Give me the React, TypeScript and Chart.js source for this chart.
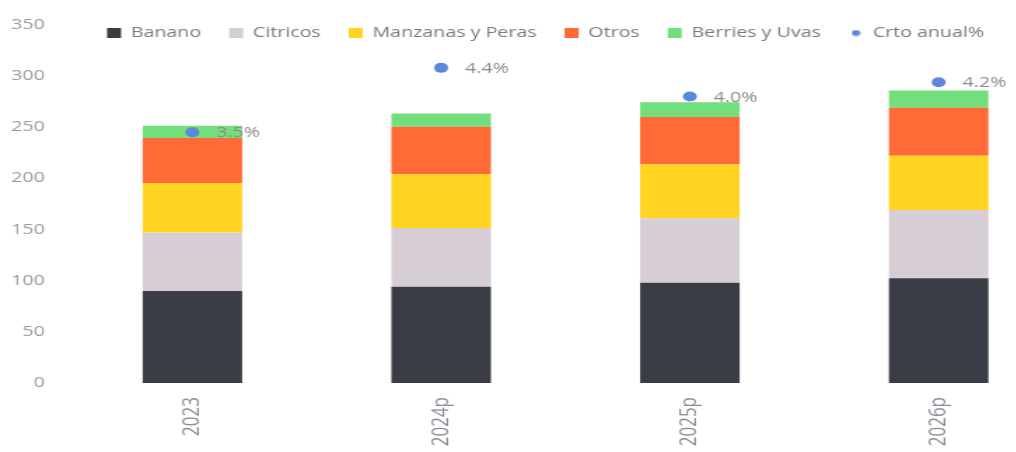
import { useEffect, useRef } from 'react';
import { Chart, registerables } from 'chart.js';

Chart.register(...registerables);

// ---- data ----
const categories = ['2023', '2024p', '2025p', '2026p'];
const banano = [90, 94, 98, 102.5];
const citricos = [57, 57.5, 63, 66.5];
const manzanasPeras = [48.5, 52.5, 52.5, 53];
const otros = [44, 46.5, 46.5, 47];
const berriesUvas = [12, 13, 14.5, 17];
const crtoAnual = [3.5, 4.4, 4.0, 4.2];
const yTicks = [0, 50, 100, 150, 200, 250, 300, 350];
const y1Range = [0, 5];

// ---- styles ----
const FONT = "'Open Sans', sans-serif";
const C_BANANO = '#3a3d45';
const C_CITRICOS = '#d6cdd5';
const C_MANZANAS = '#ffd31f';
const C_OTROS = '#ff6a36';
const C_BERRIES = '#73df7c';
const C_DOT = '#5b88d8';

// the reference image is horizontally stretched; we draw on a narrower bitmap and stretch it with CSS
const STRETCH = 1.4;
const CSS_W = 1070;
const H = 452;
const LW = Math.round(CSS_W / STRETCH);
const AREA_LEFT = 68 / STRETCH;
const LEGEND_LEFT = 16;

function makeDot(): HTMLCanvasElement {
  const c = document.createElement('canvas');
  c.width = 7;
  c.height = 7;
  const g = c.getContext('2d');
  if (g) {
    g.fillStyle = C_DOT;
    g.beginPath();
    g.arc(3.5, 3.5, 3, 0, Math.PI * 2);
    g.fill();
  }
  return c;
}

// legend overlaps the plot area (as in the reference): it takes no layout height
const legendOverlay = {
  id: 'legendOverlay',
  beforeLayout(chart: any) {
    const l = chart.legend;
    if (l && !l.__patched) {
      const orig = l.fit.bind(l);
      l.fit = function () {
        orig();
        this.height = 0;
      };
      l.__patched = true;
    }
  },
  afterLayout(chart: any) {
    const l = chart.legend;
    if (l) {
      l.left = LEGEND_LEFT;
      l.top = 6;
      l.bottom = 56;
      l.height = 50;
      l.width = l.right - l.left;
    }
  },
};

const pointLabels = {
  id: 'pointLabels',
  afterDatasetsDraw(chart: any) {
    const idx = chart.data.datasets.findIndex((d: any) => d.type === 'line');
    if (idx < 0) return;
    const meta = chart.getDatasetMeta(idx);
    const ctx = chart.ctx;
    ctx.save();
    ctx.font = `14px ${FONT}`;
    ctx.fillStyle = '#8d8a8e';
    ctx.textAlign = 'left';
    ctx.textBaseline = 'middle';
    meta.data.forEach((pt: any, i: number) => {
      ctx.fillText(crtoAnual[i].toFixed(1) + '%', pt.x + 17, pt.y + 1);
    });
    ctx.restore();
  },
};

export default function App() {
  const ref = useRef<HTMLCanvasElement>(null);

  useEffect(() => {
    const canvas = ref.current;
    if (!canvas) return;
    const dot = makeDot();
    const defaultGen = (Chart as any).defaults.plugins.legend.labels.generateLabels;

    const bar = (label: string, data: number[], color: string) => ({
      type: 'bar' as const,
      label,
      data,
      backgroundColor: color,
      borderWidth: 0,
      categoryPercentage: 0.4,
      barPercentage: 1,
      yAxisID: 'y',
    });

    const chart = new Chart(canvas, {
      type: 'bar',
      data: {
        labels: categories,
        datasets: [
          bar('Banano', banano, C_BANANO),
          bar('Citricos', citricos, C_CITRICOS),
          bar('Manzanas y Peras', manzanasPeras, C_MANZANAS),
          bar('Otros', otros, C_OTROS),
          bar('Berries y Uvas', berriesUvas, C_BERRIES),
          {
            type: 'line' as const,
            label: 'Crto anual%',
            data: crtoAnual,
            yAxisID: 'y1',
            showLine: false,
            pointRadius: 5,
            pointHoverRadius: 5,
            pointBorderWidth: 0,
            pointBackgroundColor: C_DOT,
            backgroundColor: C_DOT,
            borderColor: C_DOT,
            borderWidth: 0,
            order: -1,
          } as any,
        ],
      },
      options: {
        responsive: false,
        animation: false,
        devicePixelRatio: 1,
        layout: { padding: { left: 0, right: 1, top: 18, bottom: 0 } },
        scales: {
          x: {
            stacked: true,
            grid: { display: false, drawTicks: false },
            border: { display: false },
            ticks: {
              minRotation: 90,
              maxRotation: 90,
              autoSkip: false,
              padding: 14,
              color: '#8c8c96',
              font: { family: FONT, size: 17 },
            },
            afterFit: (s: any) => {
              s.height = 69;
            },
          },
          y: {
            stacked: true,
            min: yTicks[0],
            max: yTicks[yTicks.length - 1],
            grid: { display: false, drawTicks: false },
            border: { display: false },
            ticks: {
              stepSize: yTicks[1] - yTicks[0],
              padding: 16.5,
              color: '#9a9a9a',
              font: { family: FONT, size: 14 },
            },
            afterFit: (s: any) => {
              s.width = AREA_LEFT;
            },
          },
          y1: {
            display: false,
            position: 'right',
            min: y1Range[0],
            max: y1Range[1],
            grid: { display: false },
          },
        },
        plugins: {
          tooltip: { enabled: false },
          legend: {
            display: true,
            position: 'top',
            align: 'center',
            labels: {
              usePointStyle: true,
              boxWidth: 10,
              boxHeight: 10,
              padding: 20,
              color: '#7a7a7a',
              font: { family: FONT, size: 14 },
              sort: (a: any, b: any) => a.datasetIndex - b.datasetIndex,
              generateLabels: (ch: any) => {
                const items = defaultGen(ch);
                items.forEach((it: any) => {
                  const ds = ch.data.datasets[it.datasetIndex];
                  if (ds.type === 'line') {
                    it.pointStyle = dot;
                  } else {
                    it.pointStyle = 'rect';
                    it.lineWidth = 0;
                  }
                });
                return items;
              },
            },
          },
        },
      } as any,
      plugins: [legendOverlay, pointLabels],
    });

    return () => chart.destroy();
  }, []);

  return (
    <div
      style={{
        position: 'fixed',
        left: 0,
        top: 0,
        width: 1016,
        height: 452,
        overflow: 'hidden',
        background: '#fff',
      }}
    >
      <canvas
        ref={ref}
        width={LW}
        height={H}
        style={{ display: 'block', width: CSS_W + 'px', height: H + 'px' }}
      />
    </div>
  );
}
